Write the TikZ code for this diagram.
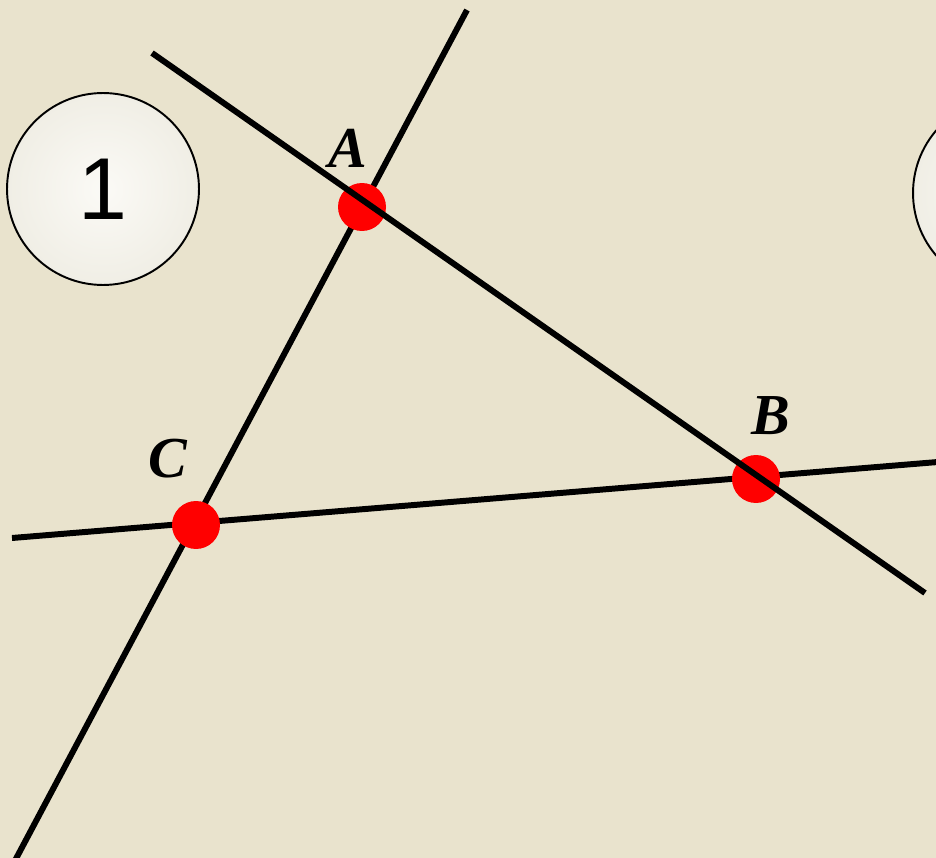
\documentclass[tikz,border=0pt]{standalone}
\usepackage{fontspec}
\setmainfont{Liberation Serif}
\newfontfamily\digitfont{Liberation Sans}
\definecolor{paperbg}{HTML}{E9E3CD}
\definecolor{discfill}{HTML}{FBFAF6}
\definecolor{discrim}{HTML}{F0EEE5}
\definecolor{pointred}{HTML}{FF0000}
\tikzset{
  paper/.style={fill=paperbg,draw=none},
  numdisc/.style={
    circle,
    draw=black,
    line width=1.1pt,
    inner color=discfill,
    outer color=discrim,
    minimum size=3.84cm,
    inner sep=0pt,
    font=\digitfont\fontsize{50}{50}\selectfont
  },
  ray/.style={line width=3.4pt,draw=black},
  vertex/.style={circle,fill=pointred,draw=none,minimum size=0.96cm,inner sep=0pt},
  vlabel/.style={font=\bfseries\itshape\fontsize{33}{33}\selectfont,inner sep=0pt}
}
\begin{document}
\begin{tikzpicture}[x=0.02cm,y=-0.02cm]
  \useasboundingbox (0,0) rectangle (936,858);
  \clip (0,0) rectangle (936,858);
  \fill[paper] (0,0) rectangle (936,858);

  % numbered discs
  \node[numdisc] (disc1) at (103,189) {1};
  \node[numdisc] (disc2) at (1009,193) {};

  % line ends
  \coordinate (ab1) at (152,53);
  \coordinate (ab2) at (925,593);
  \coordinate (ac1) at (467,10);
  \coordinate (ac2) at (10,870);
  \coordinate (cb1) at (12,538);
  \coordinate (cb2) at (950,461);

  \draw[ray] (ac1) -- (ac2);
  \draw[ray] (cb1) -- (cb2);

  \node[vertex] (A) at (362,207) {};
  \node[vertex] (B) at (756,479) {};
  \node[vertex] (C) at (196,525) {};

  \draw[ray] (ab1) -- (ab2);

  \node[vlabel] (labA) at (348,148) {A};
  \node[vlabel] (labB) at (771,416) {B};
  \node[vlabel] (labC) at (168,459) {C};
\end{tikzpicture}
\end{document}
